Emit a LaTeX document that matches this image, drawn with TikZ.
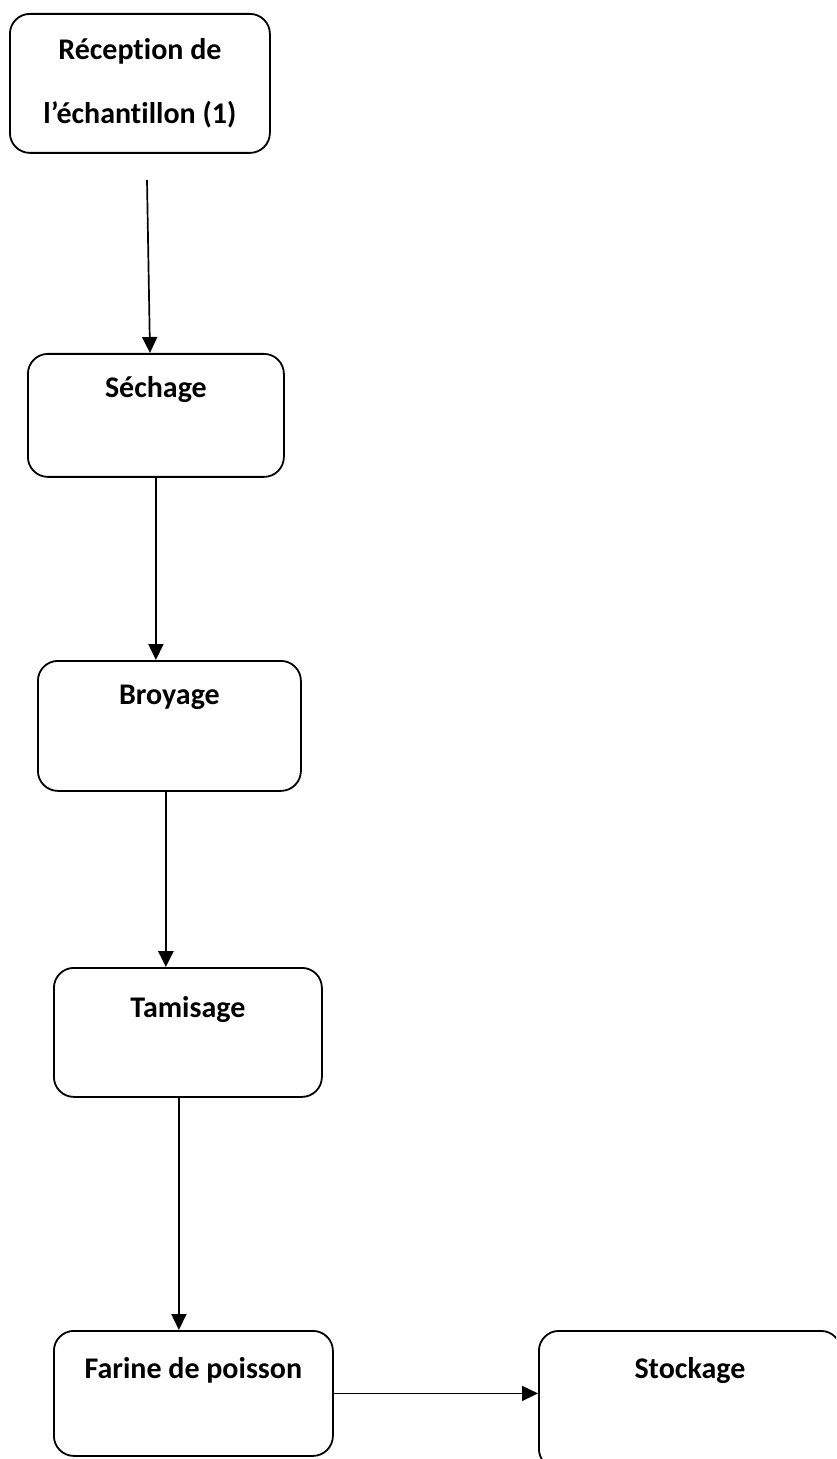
\documentclass[tikz,border=0pt]{standalone}
\usepackage{fontspec}
\setmainfont{Carlito}[Ligatures=NoCommon]
\usetikzlibrary{positioning,arrows.meta,calc}
\tikzset{
stepbox/.style={
draw,
rounded corners=10pt,
line width=0.9pt,
anchor=north west,
align=center,
inner xsep=0pt,
inner ysep=0pt,
font=\bfseries\fontsize{15}{18}\selectfont
},
arrow/.style={
-{Triangle[length=8pt,width=7.5pt]},
line width=0.85pt
}
}
\begin{document}
\begin{tikzpicture}[x=0.5pt,y=-0.5pt]
\path[use as bounding box,clip](0,0) rectangle (836,1459);
\node[stepbox,minimum width=130pt,minimum height=69.5pt](recep) at (9,13){Réception de\\[14pt]l’échantillon (1)};
\node[stepbox,minimum width=128pt,text height=22pt,text depth=39.5pt](sechage) at (27,353){Séchage};
\node[stepbox,minimum width=131.5pt,text height=22pt,text depth=43pt](broyage) at (37,660){Broyage};
\node[stepbox,minimum width=134pt,text height=25pt,text depth=39.5pt](tamis) at (53,967){Tamisage};
\node[stepbox,minimum width=139.5pt,text height=24pt,text depth=38.5pt](farine) at (53,1330){Farine de poisson};
\node[stepbox,minimum width=151pt,text height=24pt,text depth=45pt](stock) at (538,1330){Stockage};

\coordinate (a1) at (147,180);
\coordinate (a3) at ([xshift=-1.75pt]broyage.south);
\coordinate (a4) at ([xshift=-4.5pt]tamis.south);
\draw[arrow](a1)--($(sechage.north west)+(123,0)$);
\draw[arrow](sechage.south)--(sechage.south|-broyage.north);
\draw[arrow,line width=1.4pt](a3)--(a3|-tamis.north);
\draw[arrow](a4)--(a4|-farine.north);
\draw[arrow](farine.east)--(farine.east-|stock.west);
\end{tikzpicture}
\end{document}
